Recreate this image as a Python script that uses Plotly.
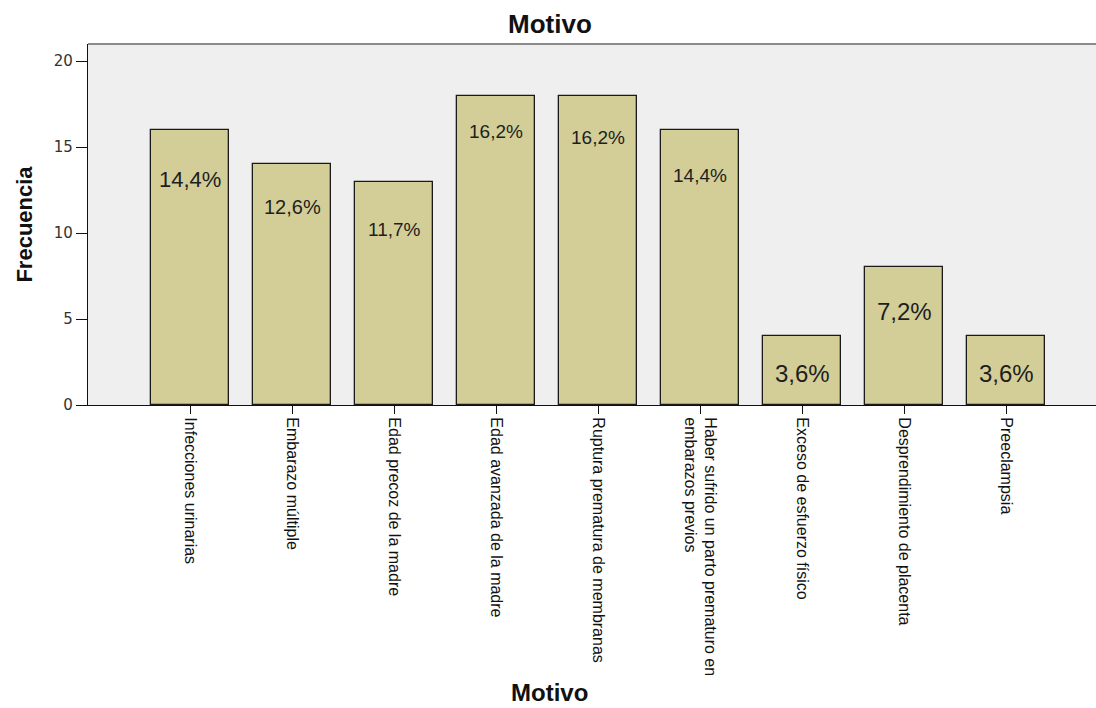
import plotly.graph_objects as go

# Frequency of each reported reason
motivos = [
    "Infecciones urinarias",
    "Embarazo múltiple",
    "Edad precoz de la madre",
    "Edad avanzada de la madre",
    "Ruptura prematura de membranas",
    "Haber sufrido un parto prematuro en<br>embarazos previos",
    "Exceso de esfuerzo físico",
    "Desprendimiento de placenta",
    "Preeclampsia",
]
frecuencias = [16, 14, 13, 18, 18, 16, 4, 8, 4]
y_ticks = [0, 5, 10, 15, 20]

total = sum(frecuencias)
porcentajes = [f"{v / total * 100:.1f}%".replace(".", ",") for v in frecuencias]

# distance (px) of each percentage label below its bar top, and its font size
label_drop = [50, 43, 48, 36, 42, 46, 37, 44, 37]
label_size = [22, 20, 19, 19, 19, 19, 24, 24, 24]

xs = list(range(len(motivos)))

fig = go.Figure()
fig.add_trace(go.Bar(
    x=xs,
    y=frecuencias,
    width=0.76,
    marker=dict(color="#D3CE97", line=dict(color="#1a1a1a", width=1.3)),
    hoverinfo="skip",
))

for x, v, t, d, s in zip(xs, frecuencias, porcentajes, label_drop, label_size):
    fig.add_annotation(
        x=x, y=v, text=t, showarrow=False, yshift=-d,
        font=dict(family="Liberation Sans, Arial", size=s, color="#1e1e1e"),
    )

# chart title and x-axis title
fig.add_annotation(
    x=0.458, y=1, xref="paper", yref="paper", yanchor="middle", yshift=20,
    text="<b>Motivo</b>", showarrow=False,
    font=dict(family="Liberation Sans, Arial", size=26, color="#111111"),
)
fig.add_annotation(
    x=0.458, xref="paper", y=0, yref="paper", yanchor="middle", yshift=-287,
    text="<b>Motivo</b>", showarrow=False,
    font=dict(family="Liberation Sans, Arial", size=24, color="#111111"),
)

# top frame line
fig.add_shape(type="line", xref="paper", yref="paper", x0=0, x1=1, y0=1, y1=1,
              line=dict(color="#8a8a8a", width=2))

fig.update_layout(
    width=1096,
    height=708,
    margin=dict(l=88, r=0, t=44, b=303),
    paper_bgcolor="white",
    plot_bgcolor="#EFEFEF",
    showlegend=False,
    bargap=0,
    xaxis=dict(
        range=[-1, 8.88],
        tickmode="array",
        tickvals=xs,
        ticktext=motivos,
        tickangle=90,
        ticks="outside",
        ticklen=8,
        tickcolor="#111111",
        showline=True,
        linecolor="#111111",
        linewidth=1.3,
        showgrid=False,
        zeroline=False,
        tickfont=dict(family="Liberation Sans, Arial", size=16, color="#111111"),
        fixedrange=True,
    ),
    yaxis=dict(
        range=[0, 21],
        tickmode="array",
        tickvals=y_ticks,
        ticks="outside",
        ticklen=11,
        tickcolor="#111111",
        showline=True,
        linecolor="#111111",
        linewidth=1.3,
        showgrid=False,
        zeroline=False,
        tickfont=dict(family="DejaVu Sans, Verdana", size=15, color="#333333"),
        title=dict(text="<b>Frecuencia</b>", standoff=15,
                   font=dict(family="Liberation Sans, Arial", size=22, color="#111111")),
        fixedrange=True,
    ),
)

fig.write_html("out.html", config={"displayModeBar": False})
